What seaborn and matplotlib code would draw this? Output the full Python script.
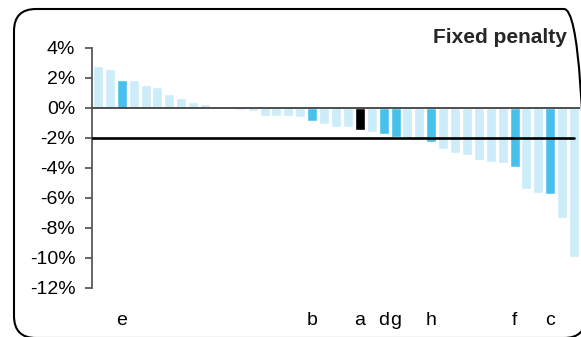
import matplotlib
matplotlib.use("Agg")
import matplotlib.pyplot as plt
from matplotlib.patches import FancyBboxPatch
from matplotlib.transforms import IdentityTransform
import pandas as pd
import seaborn as sns

# bar values in percent, sorted high -> low
values = [2.8, 2.6, 1.9, 1.9, 1.55, 1.42, 0.95, 0.69, 0.43, 0.29, 0.15,
          -0.03, -0.15, -0.22, -0.5, -0.5, -0.56, -0.63, -0.89, -1.09, -1.29,
          -1.29, -1.49, -1.63, -1.76, -1.92, -2.02, -2.15, -2.25, -2.71, -2.98,
          -3.11, -3.45, -3.58, -3.65, -3.91, -5.38, -5.65, -5.71, -7.31, -9.91]

# labelled bars: index -> letter
highlights = {2: "e", 18: "b", 22: "a", 24: "d", 25: "g", 28: "h", 35: "f", 38: "c"}
focus = "a"
reference_level = -2
yticks = [4, 2, 0, -2, -4, -6, -8, -10, -12]
title = "Fixed penalty"

LIGHT = "#CCECF9"
DARK = "#47C1EC"
FOCUS = "#000000"

codes = [highlights.get(i, "") for i in range(len(values))]
colors = [FOCUS if c == focus else (DARK if c else LIGHT) for c in codes]
df = pd.DataFrame({"pos": range(len(values)), "value": values})

sns.set_theme(style="white")
plt.rcParams["font.family"] = ["Liberation Sans", "DejaVu Sans"]

fig = plt.figure(figsize=(5.81, 3.37), dpi=100)
ax = fig.add_axes([92 / 581, 49 / 337, 488 / 581, 240 / 337])

sns.barplot(data=df, x="pos", y="value", hue="pos", palette=colors,
            legend=False, width=0.84, saturation=1, errorbar=None, ax=ax)

ax.axhline(0, color="#404040", lw=1.3, zorder=3)
ax.axhline(reference_level, xmin=0, xmax=0.988, color="black", lw=1.9, zorder=3)

ax.set_xlim(-0.5, len(values) - 0.5)
ax.set_ylim(min(yticks), max(yticks))
ax.set_yticks(yticks)
ax.set_yticklabels([f"{v}%" for v in yticks])
ax.set_xticks(range(len(values)))
ax.set_xticklabels(codes)
ax.set_xlabel("")
ax.set_ylabel("")

for side in ["top", "right", "bottom"]:
    ax.spines[side].set_visible(False)
ax.spines["left"].set_color("#595959")
ax.spines["left"].set_linewidth(1.3)

ax.tick_params(axis="y", left=True, length=5, width=1.3, color="#595959",
               pad=7, labelsize=14, labelcolor="black")
ax.tick_params(axis="x", bottom=False, length=0, pad=17, labelsize=14,
               labelcolor="black")

fig.text(567 / 581, 1 - 43 / 337, title, ha="right", va="baseline",
         fontsize=15, fontweight="bold")

# rounded frame, partly running off the right and bottom edges
frame = FancyBboxPatch((14, -1), 572, 329, boxstyle="round,pad=0,rounding_size=22",
                       transform=IdentityTransform(), fill=False,
                       edgecolor="black", lw=1.5, clip_on=False)
fig.patches.append(frame)

fig.savefig("out.png", dpi=100)
